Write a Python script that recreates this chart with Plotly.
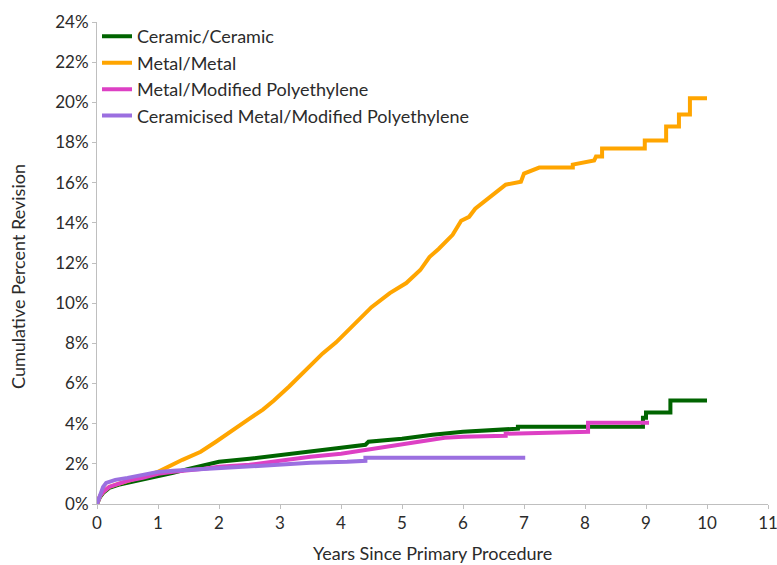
import plotly.graph_objects as go

# Cumulative percent revision by bearing surface (years since primary procedure)
years_cc = [0, 0.05, 0.1, 0.2, 0.35, 0.5, 0.75, 1.0, 1.25, 1.5, 1.75, 2.0, 2.5, 3.0, 3.5, 4.0,
            4.4, 4.45, 5.0, 5.5, 6.0, 6.5, 6.9, 6.9, 8.95, 8.95, 9.0, 9.0, 9.4, 9.4, 10.0]
rev_cc = [0, 0.35, 0.55, 0.8, 0.95, 1.05, 1.2, 1.35, 1.55, 1.75, 1.95, 2.1, 2.25, 2.45, 2.65, 2.8,
          2.95, 3.1, 3.25, 3.45, 3.6, 3.7, 3.75, 3.85, 3.85, 4.3, 4.3, 4.55, 4.55, 5.15, 5.15]

years_mm = [0, 0.05, 0.1, 0.2, 0.35, 0.5, 0.75, 1.0, 1.4, 1.7, 1.95, 2.25, 2.5, 2.72, 2.9,
            3.15, 3.45, 3.7, 3.92, 4.1, 4.3, 4.5, 4.8, 5.07, 5.3, 5.45, 5.6, 5.83, 5.97, 6.1,
            6.2, 6.5, 6.7, 6.95, 7.0, 7.25, 7.8, 7.8, 7.95, 8.15, 8.18, 8.28, 8.28, 8.98,
            8.98, 9.33, 9.33, 9.54, 9.54, 9.72, 9.72, 10.0]
rev_mm = [0, 0.4, 0.6, 0.85, 1.0, 1.15, 1.35, 1.6, 2.2, 2.6, 3.1, 3.75, 4.25, 4.7, 5.15,
          5.85, 6.75, 7.5, 8.05, 8.6, 9.2, 9.8, 10.5, 11.0, 11.65, 12.3, 12.7, 13.4, 14.1, 14.3,
          14.7, 15.4, 15.9, 16.05, 16.45, 16.75, 16.75, 16.9, 17.0, 17.1, 17.3, 17.3, 17.7,
          17.7, 18.1, 18.1, 18.8, 18.8, 19.4, 19.4, 20.2, 20.2]

years_mp = [0, 0.05, 0.1, 0.2, 0.35, 0.5, 0.75, 1.0, 1.25, 1.5, 1.75, 2.0, 2.5, 3.0, 3.5,
            4.0, 4.5, 5.0, 5.3, 5.7, 6.0, 6.5, 6.7, 6.7, 7.4, 8.05, 8.05, 9.05]
rev_mp = [0, 0.4, 0.6, 0.85, 1.0, 1.15, 1.3, 1.5, 1.6, 1.65, 1.75, 1.85, 1.95, 2.15, 2.35,
          2.5, 2.75, 3.0, 3.1, 3.3, 3.35, 3.4, 3.4, 3.5, 3.55, 3.6, 4.05, 4.05]

years_cmp = [0, 0.05, 0.1, 0.15, 0.3, 0.5, 0.75, 1.0, 1.25, 1.5, 2.0, 2.5, 3.0, 3.5,
             4.1, 4.4, 4.4, 7.02]
rev_cmp = [0, 0.5, 0.85, 1.05, 1.2, 1.3, 1.45, 1.6, 1.65, 1.7, 1.8, 1.85, 1.95, 2.05,
           2.1, 2.15, 2.3, 2.3]

series_names = ["Ceramic/Ceramic", "Metal/Metal", "Metal/Modified Polyethylene",
                "Ceramicised Metal/Modified Polyethylene"]
series_colors = ["#006400", "#FFA500", "#DD40C4", "#9B6FE0"]
series_x = [years_cc, years_mm, years_mp, years_cmp]
series_y = [rev_cc, rev_mm, rev_mp, rev_cmp]

x_ticks = list(range(0, 12))
y_ticks = list(range(0, 25, 2))

FONT = "Lato, 'Open Sans', sans-serif"
TEXT = "#2b2b2b"
AXIS = "#BFBFBF"

fig = go.Figure()
for name, color, xs, ys in zip(series_names, series_colors, series_x, series_y):
    fig.add_trace(go.Scatter(
        x=xs, y=ys, mode="lines", name=name, legendgroup=name,
        line=dict(color=color, width=4),
    ))

fig.update_layout(
    width=777, height=565,
    margin=dict(l=97, r=9, t=22, b=61, autoexpand=False),
    paper_bgcolor="white", plot_bgcolor="white",
    font=dict(family=FONT, size=17, color=TEXT),
    showlegend=True,
    legend=dict(
        x=0.0, y=1.008, xanchor="left", yanchor="top",
        bgcolor="rgba(255,255,255,0)",
        font=dict(family=FONT, size=18, color=TEXT),
        tracegroupgap=0, itemwidth=30,
    ),
    xaxis=dict(
        range=[0, 11], tickvals=x_ticks, ticktext=[str(v) for v in x_ticks],
        showgrid=False, zeroline=False, showline=True, linecolor=AXIS, linewidth=1,
        ticks="outside", ticklen=4, tickcolor=AXIS, automargin=False,
        ticklabeloverflow="allow",
        tickfont=dict(family=FONT, size=17, color=TEXT),
    ),
    yaxis=dict(
        range=[0, 24], tickvals=y_ticks, ticktext=[f"{v}%" for v in y_ticks],
        showgrid=False, zeroline=False, showline=True, linecolor=AXIS, linewidth=1,
        ticks="outside", ticklen=4, tickcolor=AXIS, automargin=False,
        ticklabeloverflow="allow",
        tickfont=dict(family=FONT, size=17, color=TEXT),
    ),
    annotations=[
        dict(text="Years Since Primary Procedure", xref="paper", yref="paper",
             x=0.5, y=0, xanchor="center", yanchor="middle", yshift=-49,
             showarrow=False, font=dict(family=FONT, size=18, color=TEXT)),
        dict(text="Cumulative Percent Revision", xref="paper", yref="paper",
             x=-0.1177, y=0.471, xanchor="center", yanchor="middle", textangle=-90,
             showarrow=False, font=dict(family=FONT, size=18, color=TEXT)),
    ],
)

fig.write_html("out.html")
